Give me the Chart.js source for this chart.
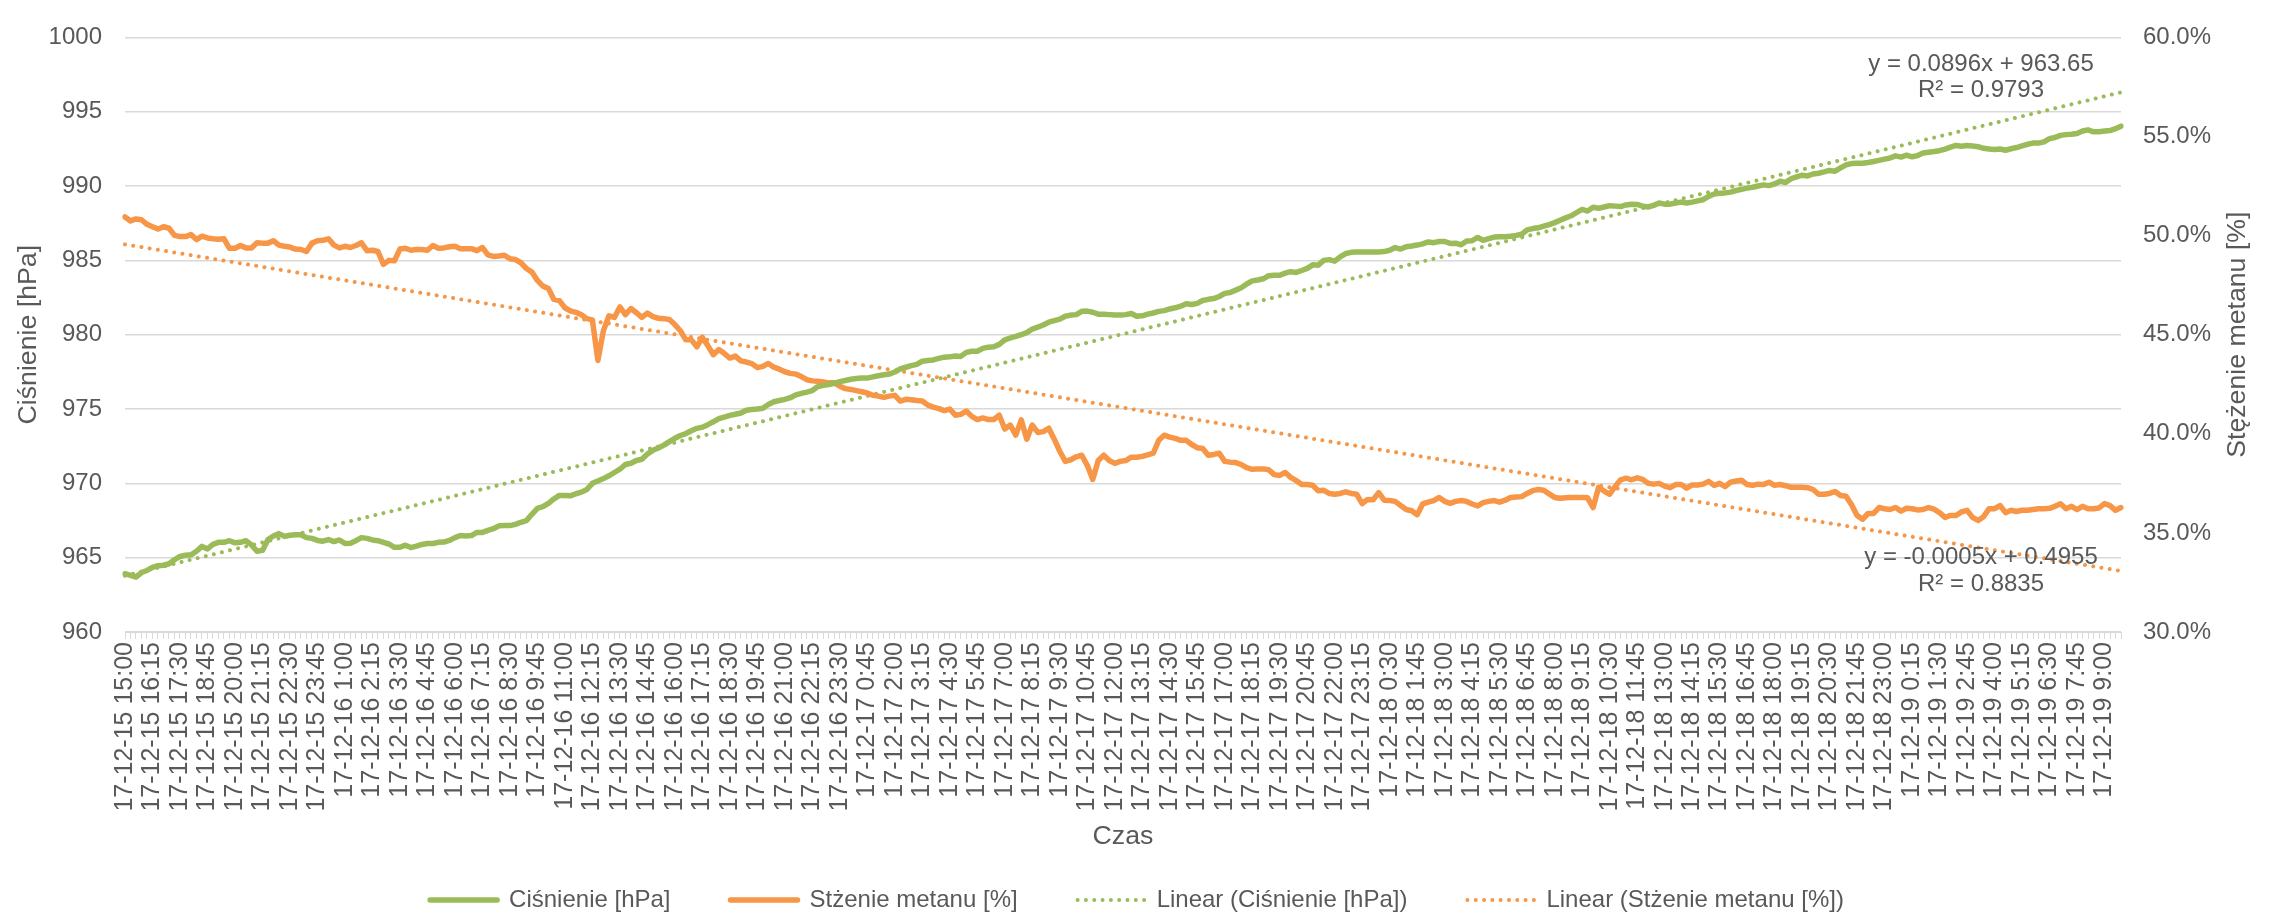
<!DOCTYPE html>
<html>
<head>
<meta charset="utf-8">
<script src="https://cdn.jsdelivr.net/npm/chart.js@4/dist/chart.umd.min.js"></script>
<style>
  html, body { margin: 0; padding: 0; background: #fff; }
</style>
</head>
<body>
<canvas id="wykres" width="2274" height="919"></canvas>
<script>
// odczyty co 15 min, od 17-12-15 15:00
const cisnienie = [
  963.92, 963.81, 963.70, 964.00, 964.14, 964.35, 964.46, 964.49, 964.59, 964.86,
  965.08, 965.16, 965.19, 965.43, 965.76, 965.59, 965.89, 966.03, 966.03, 966.14,
  966.00, 966.03, 966.14, 965.86, 965.43, 965.49, 966.22, 966.46, 966.62, 966.43,
  966.51, 966.54, 966.54, 966.35, 966.30, 966.16, 966.11, 966.22, 966.08, 966.19,
  965.95, 965.97, 966.14, 966.35, 966.30, 966.19, 966.14, 966.03, 965.92, 965.70,
  965.70, 965.84, 965.68, 965.78, 965.89, 965.95, 965.95, 966.03, 966.05, 966.16,
  966.35, 966.49, 966.46, 966.49, 966.70, 966.70, 966.84, 966.95, 967.14, 967.16,
  967.16, 967.24, 967.38, 967.49, 967.92, 968.32, 968.43, 968.65, 968.95, 969.19,
  969.19, 969.16, 969.30, 969.41, 969.59, 970.00, 970.16, 970.32, 970.51, 970.73,
  970.95, 971.27, 971.35, 971.54, 971.62, 971.97, 972.22, 972.38, 972.57, 972.81,
  973.03, 973.22, 973.35, 973.54, 973.70, 973.78, 973.95, 974.14, 974.35, 974.46,
  974.57, 974.65, 974.73, 974.92, 974.97, 975.00, 975.05, 975.30, 975.49, 975.57,
  975.65, 975.76, 975.95, 976.05, 976.14, 976.24, 976.51, 976.59, 976.65, 976.73,
  976.84, 976.92, 977.00, 977.05, 977.08, 977.08, 977.16, 977.24, 977.30, 977.35,
  977.49, 977.70, 977.81, 977.92, 978.00, 978.22, 978.27, 978.30, 978.41, 978.49,
  978.51, 978.57, 978.54, 978.81, 978.89, 978.89, 979.08, 979.16, 979.19, 979.35,
  979.65, 979.78, 979.89, 980.00, 980.14, 980.38, 980.51, 980.65, 980.84, 980.95,
  981.05, 981.24, 981.32, 981.35, 981.57, 981.59, 981.51, 981.38, 981.38, 981.35,
  981.32, 981.32, 981.35, 981.43, 981.24, 981.27, 981.38, 981.46, 981.57, 981.62,
  981.73, 981.81, 981.92, 982.08, 982.03, 982.11, 982.30, 982.38, 982.43, 982.57,
  982.78, 982.84, 983.00, 983.16, 983.41, 983.62, 983.68, 983.76, 983.97, 984.00,
  984.00, 984.14, 984.24, 984.19, 984.32, 984.46, 984.70, 984.68, 985.00, 985.05,
  984.95, 985.24, 985.46, 985.54, 985.57, 985.57, 985.57, 985.57, 985.57, 985.59,
  985.68, 985.86, 985.76, 985.92, 985.97, 986.03, 986.11, 986.24, 986.19, 986.27,
  986.27, 986.14, 986.16, 986.05, 986.30, 986.32, 986.54, 986.35, 986.46, 986.57,
  986.59, 986.59, 986.62, 986.68, 986.76, 987.05, 987.14, 987.19, 987.30, 987.41,
  987.54, 987.70, 987.86, 988.00, 988.22, 988.43, 988.32, 988.57, 988.51, 988.59,
  988.68, 988.65, 988.62, 988.73, 988.78, 988.76, 988.65, 988.59, 988.70, 988.86,
  988.78, 988.78, 988.86, 988.92, 988.86, 988.92, 989.00, 989.08, 989.30, 989.46,
  989.51, 989.54, 989.59, 989.70, 989.78, 989.86, 989.92, 990.00, 990.08, 990.03,
  990.14, 990.32, 990.24, 990.49, 990.62, 990.73, 990.68, 990.81, 990.86, 990.95,
  991.05, 991.00, 991.22, 991.43, 991.51, 991.54, 991.54, 991.59, 991.65, 991.73,
  991.81, 991.89, 992.03, 991.95, 992.08, 991.97, 992.05, 992.22, 992.27, 992.32,
  992.38, 992.49, 992.62, 992.73, 992.68, 992.73, 992.70, 992.65, 992.54, 992.49,
  992.46, 992.49, 992.41, 992.51, 992.59, 992.70, 992.81, 992.89, 992.89, 992.97,
  993.19, 993.27, 993.41, 993.46, 993.49, 993.54, 993.70, 993.78, 993.65, 993.65,
  993.70, 993.73, 993.86, 994.03
];

// stezenie metanu w %
const metan = [
  50.94, 50.74, 50.84, 50.80, 50.57, 50.45, 50.33, 50.45, 50.37, 50.01,
  49.95, 49.95, 50.05, 49.80, 49.97, 49.88, 49.84, 49.82, 49.84, 49.36,
  49.36, 49.50, 49.38, 49.38, 49.64, 49.62, 49.62, 49.74, 49.52, 49.46,
  49.42, 49.32, 49.30, 49.20, 49.62, 49.74, 49.76, 49.84, 49.52, 49.38,
  49.46, 49.40, 49.50, 49.64, 49.24, 49.26, 49.20, 48.55, 48.75, 48.73,
  49.32, 49.36, 49.26, 49.30, 49.30, 49.26, 49.50, 49.36, 49.38, 49.44,
  49.46, 49.34, 49.34, 49.34, 49.24, 49.40, 49.03, 48.95, 48.97, 49.01,
  48.83, 48.79, 48.63, 48.34, 48.16, 47.74, 47.45, 47.33, 46.78, 46.72,
  46.36, 46.20, 46.13, 46.01, 45.81, 45.75, 43.70, 45.20, 45.95, 45.87,
  46.40, 46.01, 46.32, 46.11, 45.87, 46.09, 45.91, 45.83, 45.81, 45.77,
  45.51, 45.20, 44.74, 44.74, 44.39, 44.86, 44.45, 43.99, 44.25, 44.05,
  43.82, 43.92, 43.68, 43.62, 43.54, 43.34, 43.40, 43.55, 43.36, 43.26,
  43.13, 43.05, 43.01, 42.89, 42.73, 42.67, 42.65, 42.61, 42.57, 42.57,
  42.40, 42.28, 42.24, 42.18, 42.12, 42.06, 41.94, 41.90, 41.84, 41.90,
  41.94, 41.65, 41.74, 41.72, 41.68, 41.65, 41.45, 41.35, 41.27, 41.17,
  41.25, 40.94, 40.98, 41.15, 40.88, 40.72, 40.80, 40.72, 40.72, 40.94,
  40.24, 40.44, 39.93, 40.70, 39.73, 40.44, 40.07, 40.11, 40.28, 39.73,
  39.12, 38.61, 38.69, 38.84, 38.92, 38.41, 37.70, 38.65, 38.92, 38.65,
  38.51, 38.61, 38.65, 38.82, 38.82, 38.86, 38.94, 39.02, 39.67, 39.93,
  39.83, 39.77, 39.67, 39.67, 39.46, 39.30, 39.26, 38.92, 38.96, 39.02,
  38.61, 38.57, 38.55, 38.45, 38.29, 38.21, 38.23, 38.23, 38.19, 37.94,
  37.90, 38.05, 37.80, 37.64, 37.44, 37.44, 37.40, 37.13, 37.15, 36.99,
  36.95, 36.99, 37.07, 36.99, 36.95, 36.48, 36.69, 36.67, 37.03, 36.65,
  36.63, 36.59, 36.38, 36.18, 36.12, 35.92, 36.46, 36.55, 36.63, 36.79,
  36.59, 36.49, 36.59, 36.63, 36.59, 36.46, 36.36, 36.53, 36.59, 36.63,
  36.55, 36.65, 36.79, 36.81, 36.83, 36.99, 37.13, 37.19, 37.15, 36.97,
  36.79, 36.75, 36.77, 36.79, 36.79, 36.79, 36.77, 36.28, 37.30, 37.11,
  36.95, 37.34, 37.68, 37.76, 37.68, 37.78, 37.70, 37.50, 37.46, 37.50,
  37.36, 37.28, 37.44, 37.44, 37.26, 37.42, 37.42, 37.46, 37.60, 37.40,
  37.50, 37.34, 37.56, 37.62, 37.66, 37.44, 37.40, 37.46, 37.44, 37.56,
  37.40, 37.44, 37.38, 37.30, 37.30, 37.30, 37.28, 37.19, 36.95, 36.95,
  36.99, 37.09, 36.89, 36.85, 36.42, 35.88, 35.69, 35.98, 35.98, 36.28,
  36.22, 36.18, 36.28, 36.10, 36.24, 36.22, 36.16, 36.18, 36.28, 36.20,
  36.02, 35.78, 35.88, 35.88, 36.06, 36.14, 35.78, 35.63, 35.82, 36.22,
  36.22, 36.38, 36.02, 36.14, 36.08, 36.14, 36.14, 36.18, 36.22, 36.22,
  36.24, 36.34, 36.47, 36.22, 36.34, 36.18, 36.34, 36.22, 36.22, 36.26,
  36.48, 36.38, 36.14, 36.28
];

const start = { dzien: 15, godz: 15, min: 0 };
const krokMin = 15;
const rownanieCisn = ['y = 0.0896x + 963.65', 'R² = 0.9793'];
const rownanieMetan = ['y = -0.0005x + 0.4955', 'R² = 0.8835'];

// etykiety czasu
const czasy = [];
for (let i = 0; i < cisnienie.length; i++) {
  const t = start.godz * 60 + start.min + i * krokMin;
  const d = start.dzien + Math.floor(t / 1440);
  const m = t % 1440;
  czasy.push('17-12-' + d + ' ' + Math.floor(m / 60) + ':' + String(m % 60).padStart(2, '0'));
}

// linia trendu (najmniejsze kwadraty, x = 1..n jak w Excelu)
function trend(arr) {
  const n = arr.length;
  let sx = 0, sy = 0, sxy = 0, sxx = 0;
  arr.forEach((y, i) => { const x = i + 1; sx += x; sy += y; sxy += x * y; sxx += x * x; });
  const a = (n * sxy - sx * sy) / (n * sxx - sx * sx);
  const b = (sy - a * sx) / n;
  return arr.map((_, i) => a * (i + 1) + b);
}

const ZIELONY = '#9BBB59';
const POMARANCZ = '#F79646';
const SZARY = '#595959';
const FONT = "'Liberation Sans', Arial, sans-serif";

Chart.defaults.font.family = FONT;
Chart.defaults.color = SZARY;

const napisy = {
  id: 'napisy',
  afterDraw(chart) {
    const { ctx, chartArea } = chart;
    ctx.save();
    ctx.fillStyle = SZARY;
    ctx.textAlign = 'center';
    ctx.textBaseline = 'middle';
    ctx.font = '26.7px ' + FONT;
    ctx.translate(2238, (chartArea.top + chartArea.bottom) / 2);
    ctx.rotate(-Math.PI / 2);
    ctx.fillText('Stężenie metanu [%]', 0, 0);
    ctx.restore();

    ctx.save();
    ctx.fillStyle = SZARY;
    ctx.textAlign = 'center';
    ctx.textBaseline = 'middle';
    ctx.font = '24px ' + FONT;
    const xs = chartArea.right - 140;
    rownanieCisn.forEach((t, k) => ctx.fillText(t, xs, 64 + k * 26));
    rownanieMetan.forEach((t, k) => ctx.fillText(t, xs, 557 + k * 27));
    ctx.restore();
  }
};

const ctx = document.getElementById('wykres').getContext('2d');
const wykres = new Chart(ctx, {
  type: 'line',
  data: {
    labels: czasy,
    datasets: [
      {
        label: 'Ciśnienie [hPa]',
        data: cisnienie,
        yAxisID: 'y',
        borderColor: ZIELONY,
        backgroundColor: ZIELONY,
        borderWidth: 5.5,
        borderJoinStyle: 'round',
        borderCapStyle: 'round',
        pointRadius: 0
      },
      {
        label: 'Stżenie metanu [%]',
        data: metan,
        yAxisID: 'y1',
        borderColor: POMARANCZ,
        backgroundColor: POMARANCZ,
        borderWidth: 5.5,
        borderJoinStyle: 'round',
        borderCapStyle: 'round',
        pointRadius: 0
      },
      {
        label: 'Linear (Ciśnienie [hPa])',
        data: trend(cisnienie),
        yAxisID: 'y',
        borderColor: ZIELONY,
        backgroundColor: ZIELONY,
        borderWidth: 4,
        borderDash: [0.01, 8.3],
        borderCapStyle: 'round',
        pointRadius: 0
      },
      {
        label: 'Linear (Stżenie metanu [%])',
        data: trend(metan),
        yAxisID: 'y1',
        borderColor: POMARANCZ,
        backgroundColor: POMARANCZ,
        borderWidth: 4,
        borderDash: [0.01, 8.3],
        borderCapStyle: 'round',
        pointRadius: 0
      }
    ]
  },
  options: {
    responsive: false,
    animation: false,
    devicePixelRatio: 1,
    layout: { padding: { top: 19, left: 0, right: 0, bottom: 0 } },
    plugins: {
      tooltip: { enabled: false },
      legend: {
        position: 'bottom',
        maxHeight: 91,
        labels: {
          usePointStyle: true,
          pointStyle: 'line',
          pointStyleWidth: 67,
          padding: 60,
          color: SZARY,
          font: { size: 24 },
          // kreskowanie linii trendu takze w legendzie
          generateLabels: chart => chart.data.datasets.map((ds, i) => ({
            text: ds.label,
            datasetIndex: i,
            fillStyle: ds.borderColor,
            strokeStyle: ds.borderColor,
            fontColor: SZARY,
            lineWidth: ds.borderWidth,
            lineDash: ds.borderDash || [],
            lineCap: 'round',
            pointStyle: 'line',
            hidden: false
          }))
        }
      }
    },
    scales: {
      x: {
        ticks: {
          autoSkip: false,
          minRotation: 90,
          maxRotation: 90,
          padding: 3,
          font: { size: 25 },
          callback: (v, i) => (i % 5 === 0 ? czasy[i] : '')
        },
        grid: { drawOnChartArea: false, drawTicks: true, tickLength: 7, color: '#D9D9D9' },
        border: { color: '#D9D9D9' },
        title: { display: true, text: 'Czas', font: { size: 26.7 }, padding: { top: 0, bottom: -25 } },
        afterFit: s => { s.height = 196; }
      },
      y: {
        position: 'left',
        min: 960,
        max: 1000,
        ticks: { stepSize: 5, padding: 23, font: { size: 24 }, callback: v => String(v) },
        grid: { color: '#D9D9D9', lineWidth: 1.5, drawTicks: false },
        border: { display: false },
        title: { display: true, text: 'Ciśnienie [hPa]', font: { size: 26.7 }, padding: { top: 13, bottom: 0 } },
        afterFit: s => { s.width = 125; }
      },
      y1: {
        position: 'right',
        min: 30,
        max: 60,
        ticks: { stepSize: 5, padding: 22, font: { size: 24 }, callback: v => v.toFixed(1) + '%' },
        grid: { drawOnChartArea: false, drawTicks: false },
        border: { display: false },
        afterFit: s => { s.width = 153; }
      }
    }
  },
  plugins: [napisy]
});
</script>
</body>
</html>
